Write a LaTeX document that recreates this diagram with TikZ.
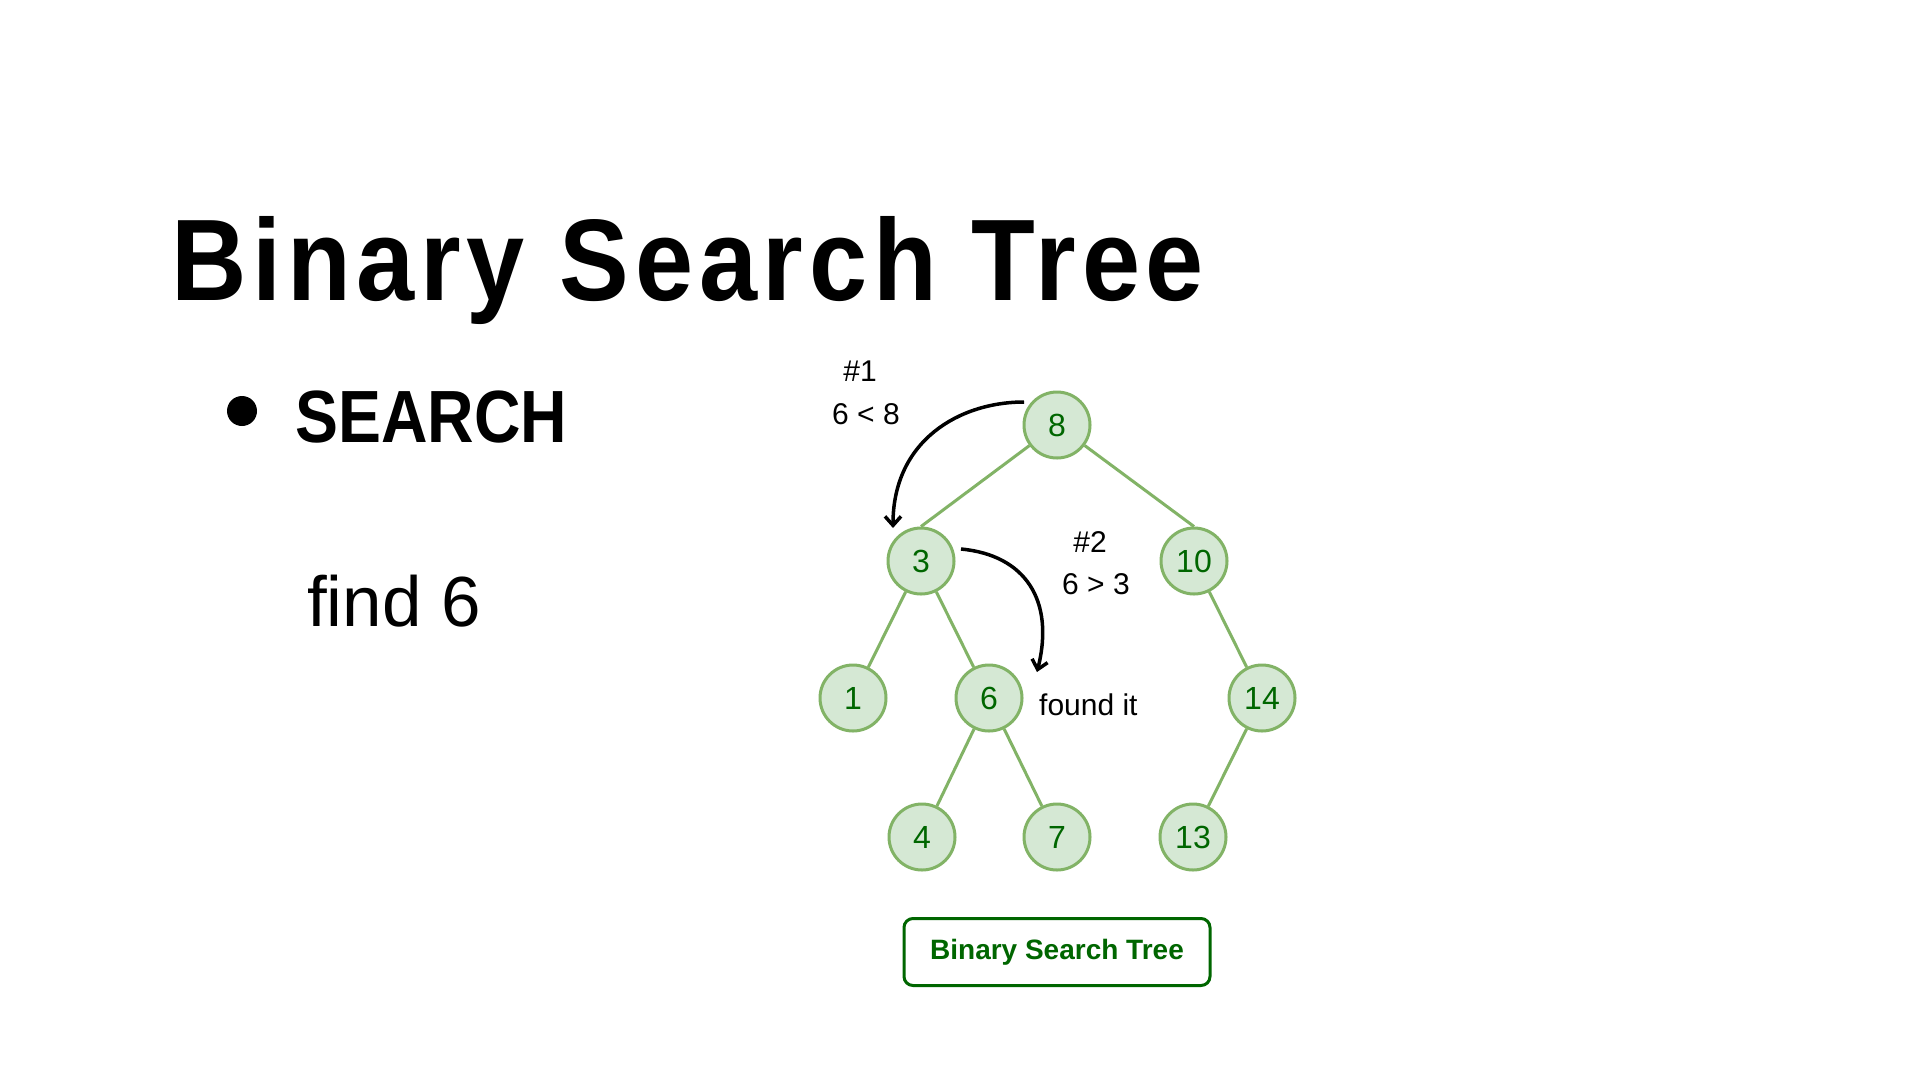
\documentclass[tikz,border=0pt]{standalone}
\usepackage{fontspec}
\usetikzlibrary{arrows.meta}
\setmainfont{Liberation Sans}
\newfontfamily\titlefont{Liberation Sans}[FakeStretch=0.9,LetterSpace=5]
\newfontfamily\headfont{Liberation Sans}[FakeStretch=0.87]
\definecolor{nodefill}{HTML}{D5E8D4}
\definecolor{nodeline}{HTML}{82B366}
\definecolor{leafgreen}{HTML}{006600}
\tikzset{
  treenode/.style={circle, draw=nodeline, fill=nodefill, line width=3pt,
    minimum size=66pt, inner sep=0pt, text=leafgreen, font=\fontsize{32}{32}\selectfont},
  treeedge/.style={draw=nodeline, line width=3pt},
  searcharrow/.style={draw=black, line width=3.5pt, -{Straight Barb[length=9pt,width=16pt,line width=3.5pt]}},
  note/.style={inner sep=0pt, anchor=base, font=\fontsize{30}{30}\selectfont}
}
\begin{document}
\begin{tikzpicture}[x=1pt,y=-1pt]
\useasboundingbox[fill=white] (0,0) rectangle (1920,1080);

% headings
\node[anchor=base west, inner sep=0pt, font=\titlefont\bfseries\fontsize{116}{116}\selectfont] (title) at (171,300) {Binary Search Tree};
\fill (242,411) circle (15);
\node[anchor=base west, inner sep=0pt, font=\headfont\bfseries\fontsize{74}{74}\selectfont] (search) at (295,442) {SEARCH};
\node[anchor=base west, inner sep=0pt, font=\fontsize{71}{71}\selectfont] (find) at (307,626) {find 6};

% tree nodes
\node[treenode] (n8) at (1057,425) {8};
\node[treenode] (n3) at (921,561) {3};
\node[treenode] (n10) at (1194,561) {10};
\node[treenode] (n1) at (853,698) {1};
\node[treenode] (n6) at (989,698) {6};
\node[treenode] (n14) at (1262,698) {14};
\node[treenode] (n4) at (922,837) {4};
\node[treenode] (n7) at (1057,837) {7};
\node[treenode] (n13) at (1193,837) {13};

% tree edges
\draw[treeedge] (n8) -- (n3.north);
\draw[treeedge] (n8) -- (n10.north);
\draw[treeedge] (n3) -- (n1);
\draw[treeedge] (n3) -- (n6);
\draw[treeedge] (n10) -- (n14);
\draw[treeedge] (n6) -- (n4);
\draw[treeedge] (n6) -- (n7);
\draw[treeedge] (n14) -- (n13);

% caption box
\node[draw=leafgreen, line width=3pt, rounded corners=9pt, minimum width=306pt, minimum height=67pt,
  text=leafgreen, font=\bfseries\fontsize{28}{28}\selectfont] (caption) at (1057,952) {Binary Search Tree};

% search steps
\node[note] (s1a) at (860,381) {\#1};
\node[note] (s1b) at (866,424) {6 < 8};
\node[note] (s2a) at (1090,552) {\#2};
\node[note] (s2b) at (1096,594) {6 > 3};
\node[note, anchor=base west] (found) at (1039,715) {found it};

\coordinate (a1s) at (1024,402);
\coordinate (a1e) at (893,528);
\coordinate (a2s) at (961,549);
\coordinate (a2e) at (1037,672);
\draw[searcharrow] (a1s) .. controls (960,402) and (893,440) .. (a1e);
\draw[searcharrow] (a2s) .. controls (1025,555) and (1055,600) .. (a2e);
\end{tikzpicture}
\end{document}
